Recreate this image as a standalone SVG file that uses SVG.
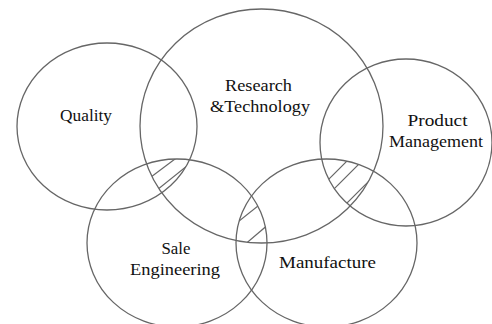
<svg xmlns="http://www.w3.org/2000/svg" width="492" height="324" viewBox="0 0 492 324">
<style>
.c{fill:none;stroke:#666;stroke-width:1.3}
.h{stroke:#666;stroke-width:1.2}
.t{font-size:17px;fill:#111;text-anchor:middle}
</style>
<defs>
<clipPath id="cQ"><ellipse cx="107" cy="126.5" rx="90" ry="83.5"/></clipPath>
<clipPath id="cRT"><ellipse cx="261.5" cy="126" rx="121.5" ry="117"/></clipPath>
<clipPath id="cPM"><ellipse cx="406" cy="142.5" rx="86" ry="83.5"/></clipPath>
<clipPath id="cSE"><ellipse cx="177" cy="243" rx="90" ry="84"/></clipPath>
<clipPath id="cMF"><ellipse cx="326.5" cy="243" rx="90.5" ry="84"/></clipPath>
</defs>
<g id="hatching">
<g clip-path="url(#cQ)"><g clip-path="url(#cRT)"><g clip-path="url(#cSE)">
<line class="h" x1="133" y1="190.5" x2="203" y2="138"/>
<line class="h" x1="142" y1="202" x2="212" y2="146"/>
</g></g></g>
<g clip-path="url(#cRT)"><g clip-path="url(#cSE)"><g clip-path="url(#cMF)">
<line class="h" x1="216" y1="239.5" x2="276" y2="191.5"/>
<line class="h" x1="226" y1="260.5" x2="286" y2="209.5"/>
</g></g></g>
<g clip-path="url(#cRT)"><g clip-path="url(#cPM)"><g clip-path="url(#cMF)">
<line class="h" x1="315" y1="193" x2="355" y2="153"/>
<line class="h" x1="320" y1="203" x2="370" y2="153"/>
<line class="h" x1="332" y1="218" x2="382" y2="168"/>
</g></g></g>
</g>
<g id="labels" font-family="'Times New Roman', 'Liberation Serif', 'DejaVu Serif', 'Noto Serif', serif">
<g id="quality">
<ellipse class="c" cx="107" cy="126.5" rx="90" ry="83.5"/>
<text class="t" x="86" y="121" textLength="52" lengthAdjust="spacingAndGlyphs">Quality</text>
</g>
<g id="research">
<ellipse class="c" cx="261.5" cy="126" rx="121.5" ry="117"/>
<text class="t" x="258.5" y="91" textLength="67" lengthAdjust="spacingAndGlyphs">Research</text>
<text class="t" x="260" y="112" textLength="100" lengthAdjust="spacingAndGlyphs">&amp;Technology</text>
</g>
<g id="product">
<ellipse class="c" cx="406" cy="142.5" rx="86" ry="83.5"/>
<text class="t" x="437.5" y="126" textLength="60" lengthAdjust="spacingAndGlyphs">Product</text>
<text class="t" x="436" y="147" textLength="94" lengthAdjust="spacingAndGlyphs">Management</text>
</g>
<g id="sale">
<ellipse class="c" cx="177" cy="243" rx="90" ry="84"/>
<text class="t" x="176" y="254" textLength="29" lengthAdjust="spacingAndGlyphs">Sale</text>
<text class="t" x="175" y="275" textLength="90" lengthAdjust="spacingAndGlyphs">Engineering</text>
</g>
<g id="manufacture">
<ellipse class="c" cx="326.5" cy="243" rx="90.5" ry="84"/>
<text class="t" x="327.5" y="268" textLength="97" lengthAdjust="spacingAndGlyphs">Manufacture</text>
</g>
</g>
</svg>
